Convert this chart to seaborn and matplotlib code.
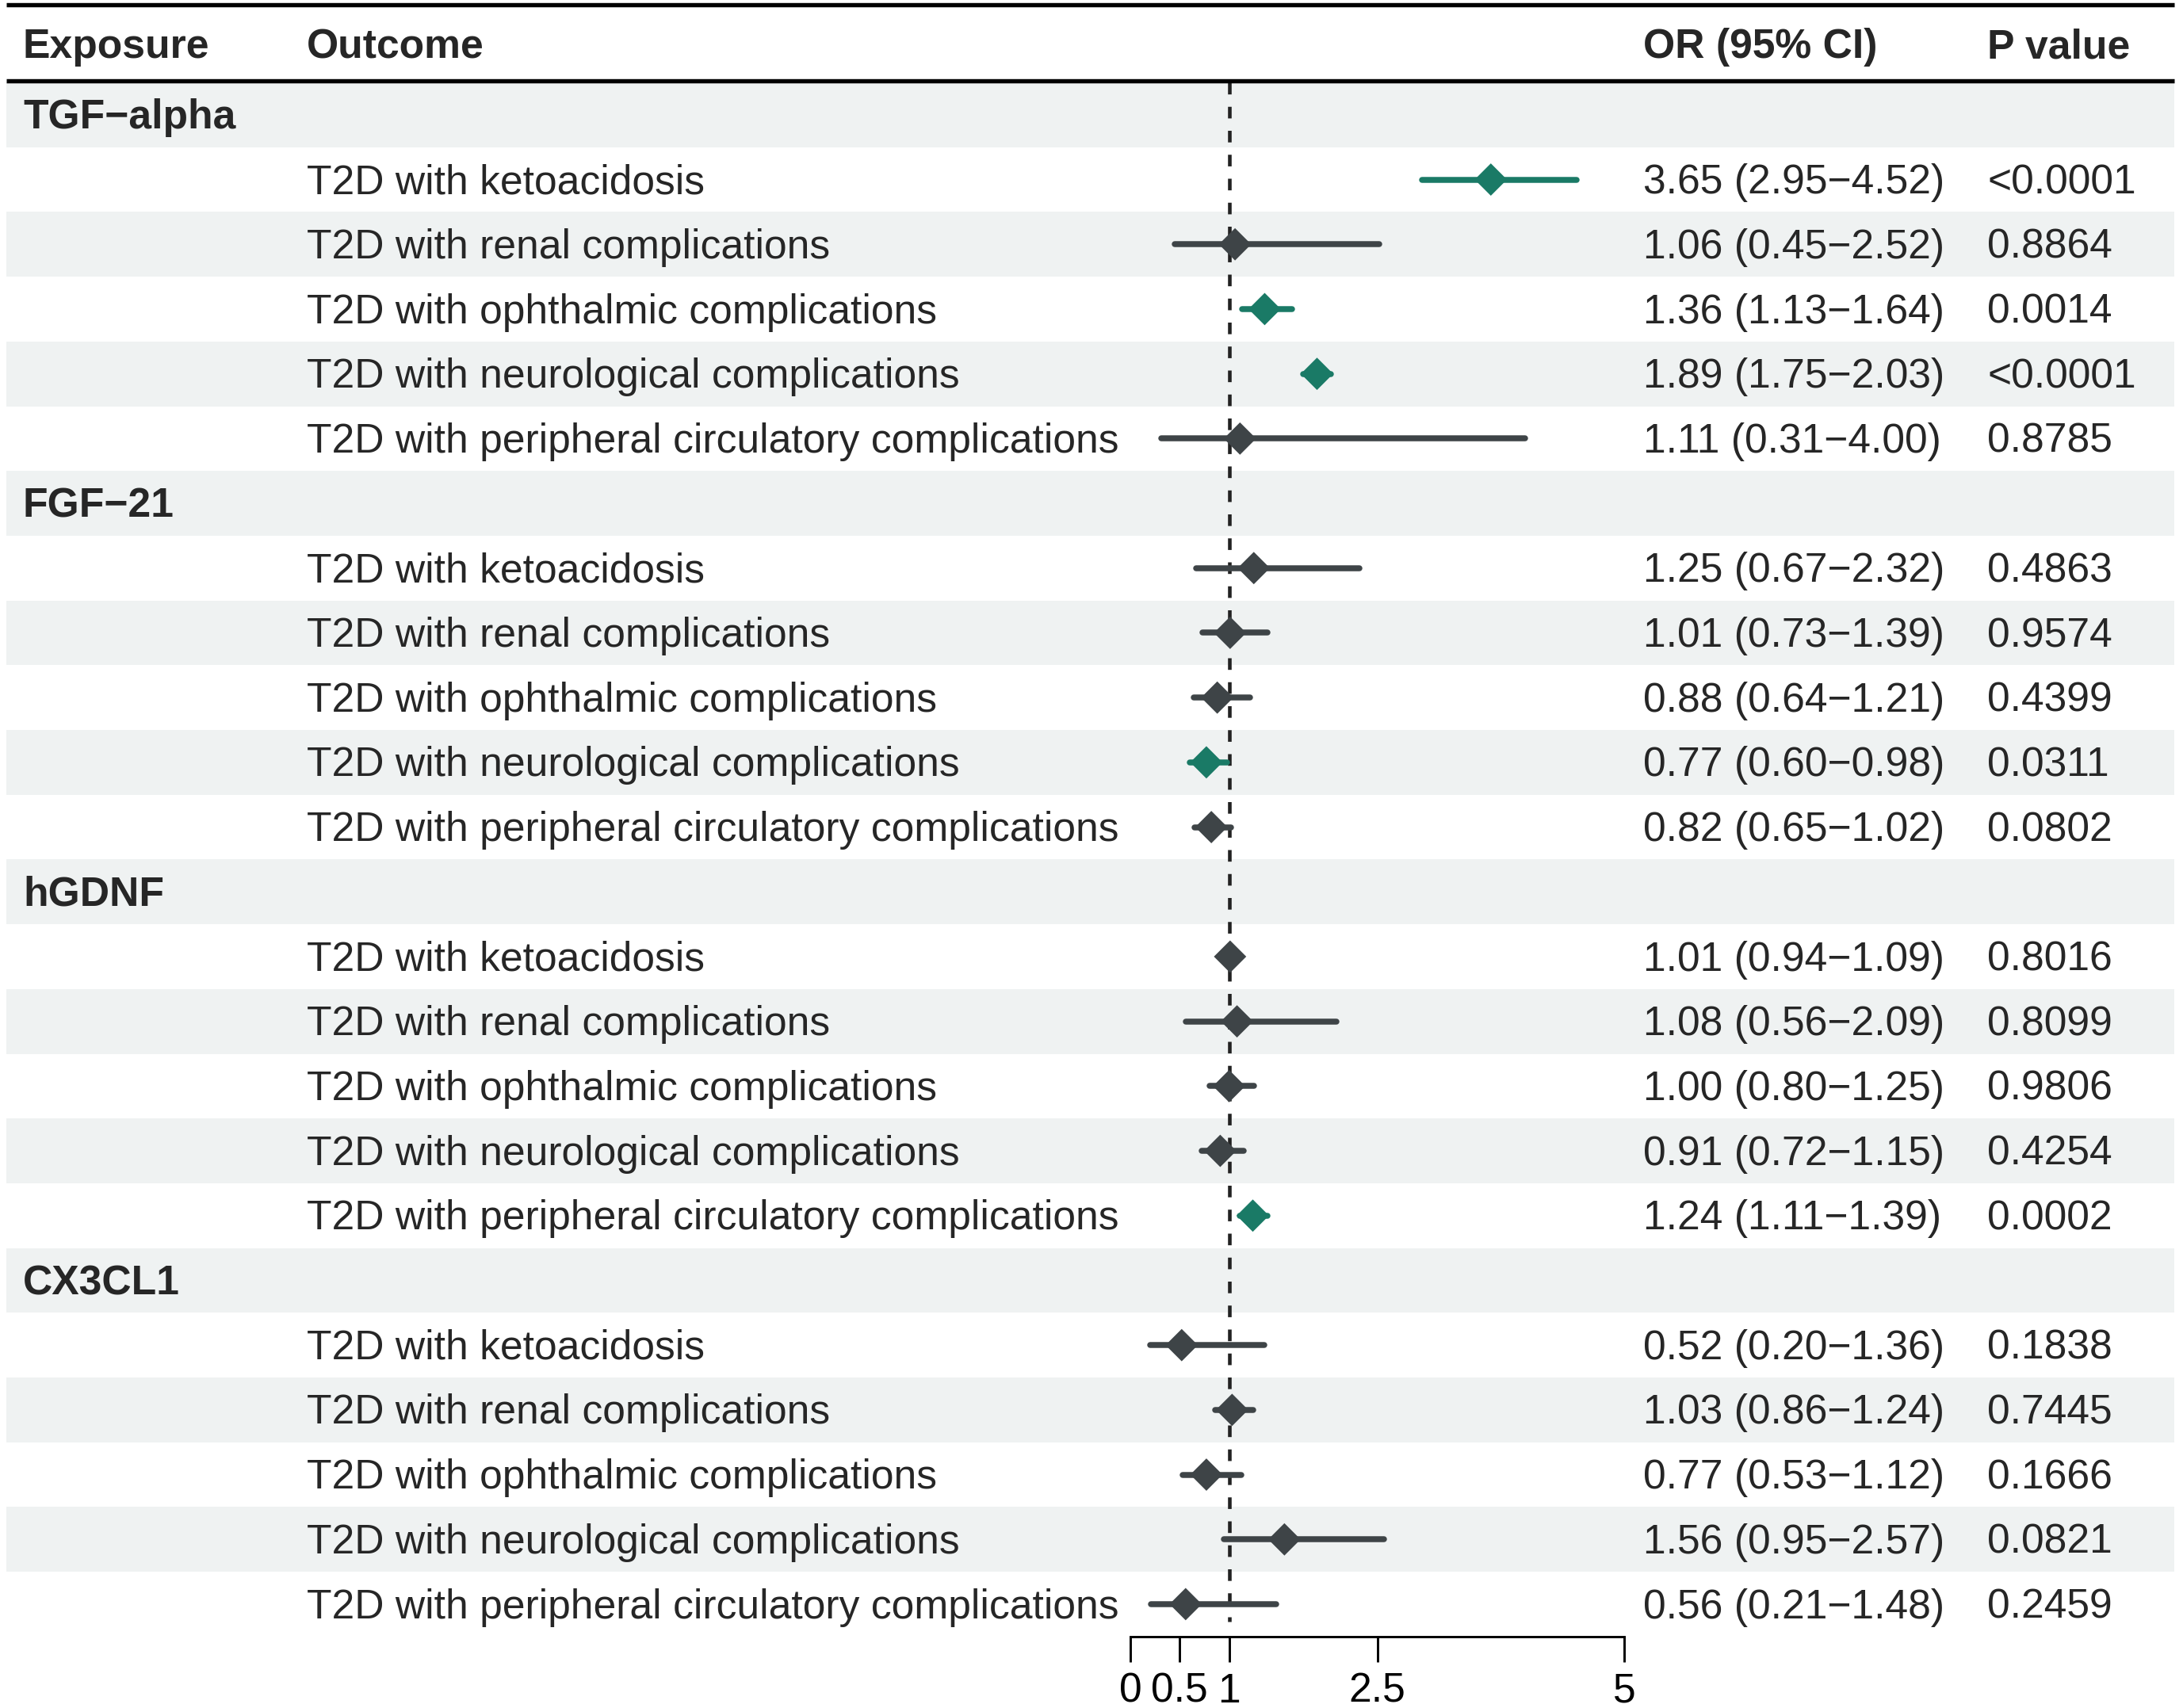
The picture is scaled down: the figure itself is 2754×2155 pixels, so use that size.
import numpy as np
import pandas as pd
import matplotlib
matplotlib.use("Agg")
import matplotlib.pyplot as plt
import matplotlib.transforms as mtransforms
import seaborn as sns

exposures = ["TGF−alpha", "FGF−21", "hGDNF", "CX3CL1"]
outcomes = [
    "T2D with ketoacidosis",
    "T2D with renal complications",
    "T2D with ophthalmic complications",
    "T2D with neurological complications",
    "T2D with peripheral circulatory complications",
]
or_vals = [3.65, 1.06, 1.36, 1.89, 1.11,
           1.25, 1.01, 0.88, 0.77, 0.82,
           1.01, 1.08, 1.00, 0.91, 1.24,
           0.52, 1.03, 0.77, 1.56, 0.56]
ci_low = [2.95, 0.45, 1.13, 1.75, 0.31,
          0.67, 0.73, 0.64, 0.60, 0.65,
          0.94, 0.56, 0.80, 0.72, 1.11,
          0.20, 0.86, 0.53, 0.95, 0.21]
ci_high = [4.52, 2.52, 1.64, 2.03, 4.00,
           2.32, 1.39, 1.21, 0.98, 1.02,
           1.09, 2.09, 1.25, 1.15, 1.39,
           1.36, 1.24, 1.12, 2.57, 1.48]
p_text = ["<0.0001", "0.8864", "0.0014", "<0.0001", "0.8785",
          "0.4863", "0.9574", "0.4399", "0.0311", "0.0802",
          "0.8016", "0.8099", "0.9806", "0.4254", "0.0002",
          "0.1838", "0.7445", "0.1666", "0.0821", "0.2459"]
x_ticks = [0, 0.5, 1, 2.5, 5]
x_ticklabels = ["0", "0.5", "1", "2.5", "5"]

green = "#1A7A66"
grey = "#3E4447"
shade = "#EFF2F2"

# build the long table: one header row per exposure, then its 5 outcomes
rows = []
k = 0
for e in exposures:
    rows.append(dict(label=e, kind="header"))
    for o in outcomes:
        p = float(p_text[k].lstrip("<"))
        rows.append(dict(label=o, kind="item", OR=or_vals[k], lo=ci_low[k],
                         hi=ci_high[k], p=p_text[k], sig=p < 0.05,
                         ci=f"{or_vals[k]:.2f} ({ci_low[k]:.2f}−{ci_high[k]:.2f})"))
        k += 1
df = pd.DataFrame(rows)
df["row"] = np.arange(len(df))
items = df[df.kind == "item"].copy()
items["grp"] = np.where(items.sig, "sig", "ns")

sns.set_style("white")
plt.rcParams["font.family"] = ["Liberation Sans", "DejaVu Sans"]
fs = 12.4

W, H, dpi = 2754, 2155, 300
fig = plt.figure(figsize=(W / dpi, H / dpi), dpi=dpi)
ax = fig.add_axes([0, 90 / H, 1, 1 - 90 / H])
ax.set_xlim((0 - 1426) / 124.6, (W - 1426) / 124.6)
ax.set_ylim((2065 - 144.85) / 81.7, (0 - 144.85) / 81.7)

# zebra shading
x0, x1 = 8 / W, 2743 / W
for r in df.row:
    if r % 2 == 0:
        ax.axhspan(r - 0.5, r + 0.5, xmin=x0, xmax=x1, color=shade, lw=0, zorder=0)

# header rules
ax.axhline(-1.70, xmin=x0, xmax=x1, color="black", lw=1.3, solid_capstyle="butt")
ax.axhline(-0.525, xmin=x0, xmax=x1, color="black", lw=1.3, solid_capstyle="butt")

# reference line at OR = 1
ax.vlines(1, -0.5, 23.27, color="#222222", lw=1.1, linestyles=(0, (3.2, 3.4)), zorder=1)

# confidence intervals
for g, col in [("ns", grey), ("sig", green)]:
    sub = items[items.grp == g]
    ax.hlines(sub.row, sub.lo, sub.hi, color=col, lw=1.8, capstyle="round", zorder=2)

sns.scatterplot(data=items, x="OR", y="row", hue="grp", palette={"ns": grey, "sig": green},
                marker="D", s=48, linewidth=0, legend=False, zorder=3, ax=ax)

# text columns
tr = mtransforms.blended_transform_factory(fig.transFigure, ax.transData)
base = 0.215
hy = -0.875
ax.text(29 / W, hy, "Exposure", transform=tr, fontsize=fs, fontweight="bold", va="baseline")
ax.text(387 / W, hy, "Outcome", transform=tr, fontsize=fs, fontweight="bold", va="baseline")
ax.text(2073 / W, hy, "OR (95% CI)", transform=tr, fontsize=fs, fontweight="bold", va="baseline")
ax.text(2507 / W, hy, "P value", transform=tr, fontsize=fs, fontweight="bold", va="baseline")
for _, r in df.iterrows():
    if r.kind == "header":
        ax.text(29 / W, r.row + base, r.label, transform=tr, fontsize=fs,
                fontweight="bold", va="baseline")
    else:
        ax.text(387 / W, r.row + base, r.label, transform=tr, fontsize=fs, va="baseline")
        ax.text(2073 / W, r.row + base, r.ci, transform=tr, fontsize=fs, va="baseline")
        ax.text(2507 / W, r.row + base, r.p, transform=tr, fontsize=fs, va="baseline")

# x axis: only 0..5
sns.despine(ax=ax, left=True, top=True, right=True)
ax.spines["bottom"].set_bounds(0, 5)
ax.spines["bottom"].set_linewidth(0.7)
ax.spines["bottom"].set_color("black")
ax.set_xticks(x_ticks)
ax.set_xticklabels(x_ticklabels, fontsize=fs)
ax.tick_params(axis="x", bottom=True, length=7.7, width=0.7, pad=3, colors="black")
ax.set_yticks([])
ax.set_xlabel("")
ax.set_ylabel("")
ax.set_facecolor("white")

fig.savefig("out.png", dpi=dpi, facecolor="white")
